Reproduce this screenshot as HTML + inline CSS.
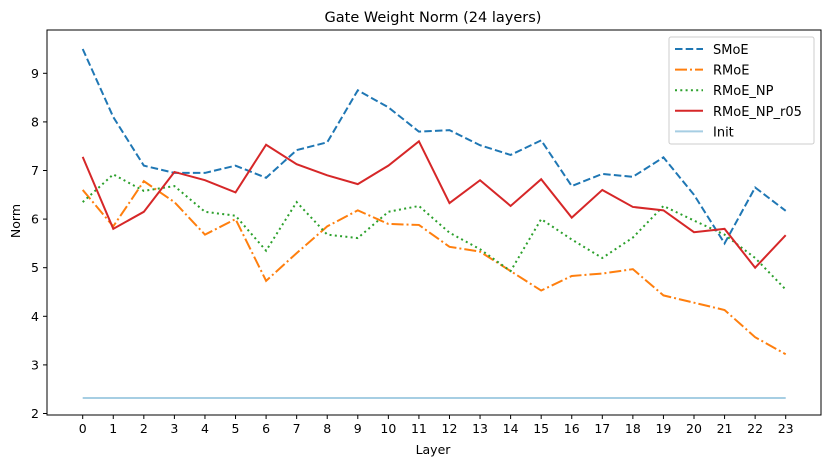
<!DOCTYPE html>
<html><head><meta charset="utf-8"><style>
body{margin:0;background:#fff}
svg text{font-family:"DejaVu Sans","Liberation Sans",sans-serif;fill:#000}
</style></head><body>
<svg id="chart" width="831" height="467" xmlns="http://www.w3.org/2000/svg">
<rect width="831" height="467" fill="#fff"/>
<text x="433" y="22" font-size="14.5" text-anchor="middle">Gate Weight Norm (24 layers)</text>
<text x="433" y="454" font-size="12.5" text-anchor="middle">Layer</text>
<text x="20" y="221" font-size="12.5" text-anchor="middle" transform="rotate(-90 20 221)">Norm</text>
<g id="grid"></g>
<g id="series"></g>
<rect x="47" y="30" width="774" height="385" fill="none" stroke="#000" stroke-width="1"/>
<g id="legend"></g>
</svg>
<script>
const layers=[0,1,2,3,4,5,6,7,8,9,10,11,12,13,14,15,16,17,18,19,20,21,22,23];
const yTicks=[2,3,4,5,6,7,8,9];
const smoe=[9.5,8.1,7.1,6.95,6.95,7.1,6.85,7.42,7.58,8.65,8.3,7.8,7.83,7.52,7.32,7.62,6.68,6.93,6.87,7.27,6.5,5.5,6.65,6.17];
const rmoe=[6.6,5.85,6.78,6.35,5.68,6.0,4.73,5.3,5.85,6.18,5.9,5.88,5.43,5.33,4.93,4.53,4.83,4.88,4.97,4.43,4.28,4.13,3.57,3.22];
const rmoeNp=[6.35,6.92,6.58,6.68,6.15,6.07,5.35,6.35,5.68,5.61,6.15,6.27,5.72,5.38,4.93,6.0,5.58,5.2,5.62,6.27,5.97,5.68,5.2,4.55];
const rmoeNpR05=[7.28,5.8,6.15,6.97,6.8,6.55,7.53,7.13,6.9,6.72,7.1,7.6,6.33,6.8,6.27,6.82,6.03,6.6,6.25,6.18,5.73,5.8,5.0,5.67];
const init=[2.32,2.32,2.32,2.32,2.32,2.32,2.32,2.32,2.32,2.32,2.32,2.32,2.32,2.32,2.32,2.32,2.32,2.32,2.32,2.32,2.32,2.32,2.32,2.32];
const seriesNames=["SMoE","RMoE","RMoE_NP","RMoE_NP_r05","Init"];

const NS="http://www.w3.org/2000/svg";
const xS=i=>82.7+(i-layers[0])*(785.7-82.7)/(layers[layers.length-1]-layers[0]);
const yS=v=>413.5-(v-2)*48.6;
const grid=document.getElementById('grid');
function mk(t,a,p){const e=document.createElementNS(NS,t);for(const k in a)e.setAttribute(k,a[k]);p.appendChild(e);return e;}
layers.forEach(l=>{
  const t=mk('line',{x1:xS(l),x2:xS(l),y1:415,y2:419,stroke:'#000','stroke-width':1},grid);
  
  
  const tx=mk('text',{x:xS(l),y:433,'font-size':12.5,'text-anchor':'middle'},grid);
  tx.textContent=l;
  
  
});
yTicks.forEach(v=>{
  const t=mk('line',{x1:43,x2:47,y1:yS(v),y2:yS(v),stroke:'#000','stroke-width':1},grid);
  
  
  const tx=mk('text',{x:39,y:yS(v)+4.5,'font-size':12.5,'text-anchor':'end'},grid);
  tx.textContent=v;
  
  
});
const styles=[
 {d:smoe,c:'#1f77b4',dash:'7.5,3.2'},
 {d:rmoe,c:'#ff7f0e',dash:'12,3,2,3'},
 {d:rmoeNp,c:'#2ca02c',dash:'2,3.3'},
 {d:rmoeNpR05,c:'#d62728',dash:''},
 {d:init,c:'#a6cee3',dash:''}
];
const sg=document.getElementById('series');
const lg=document.getElementById('legend');
mk('rect',{x:669,y:37,width:145,height:107,rx:2,fill:'#fff','fill-opacity':0.8,stroke:'#ccc','stroke-width':1},lg);
styles.forEach((s,k)=>{
  const pts=s.d.map((v,i)=>xS(layers[i])+','+yS(v)).join(' ');
  const pl=mk('polyline',{points:pts,fill:'none',stroke:s.c,'stroke-width':2,'stroke-dasharray':s.dash},sg);
  
  
  const y=49+k*20.6;
  const ll=mk('line',{x1:675,x2:703,y1:y,y2:y,stroke:s.c,'stroke-width':2,'stroke-dasharray':s.dash},lg);
  
  
  const lt=mk('text',{x:713,y:y+5,'font-size':13},lg);
  lt.textContent=seriesNames[k];
  
  
});
</script>
</body></html>
